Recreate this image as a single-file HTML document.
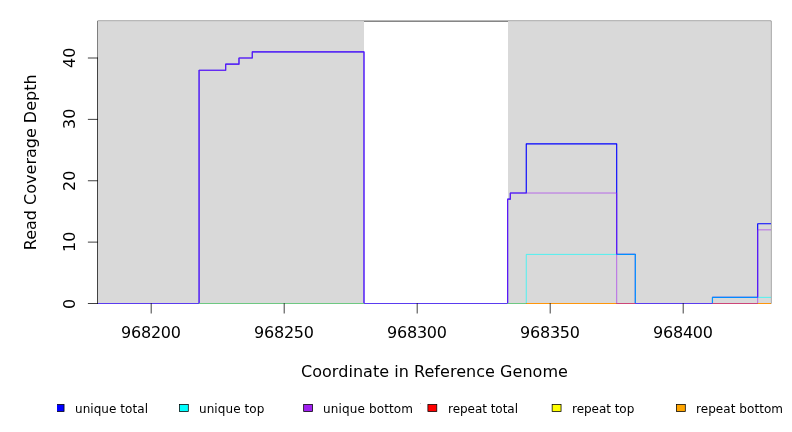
<!DOCTYPE html>
<html><head><meta charset="utf-8"><title>Read Coverage Depth</title>
<style>
html,body{margin:0;padding:0;background:#fff;width:792px;height:432px;overflow:hidden}
text{font-family:"DejaVu Sans","Liberation Sans",sans-serif;fill:#000}
.t16{font-size:16px}
.t12{font-size:12px}
</style></head><body>
<svg width="792" height="432" viewBox="0 0 792 432" style="display:block;position:absolute;left:0;top:0">
<defs><clipPath id="plotclip"><rect x="98" y="21.1" width="672.92" height="282.9"/></clipPath></defs>
<rect width="792" height="432" fill="#fff"/>
<rect x="97.875" y="21.1" width="673.045" height="282.4" fill="none" stroke="#000" stroke-width="0.75"/>
<rect x="98" y="21.1" width="266" height="281.9" fill="#d9d9d9"/>
<rect x="508" y="21.1" width="262.91999999999996" height="281.9" fill="#d9d9d9"/>
<g clip-path="url(#plotclip)">
<path d="M95.34,303.5 L199.08,303.5 L199.08,70.28 L225.68,70.28 L225.68,64.14 L238.98,64.14 L238.98,58.0 L252.28,58.0 L252.28,51.86 L364.0,51.86 L364.0,303.5 L507.64,303.5 L507.64,199.16 L510.3,199.16 L510.3,193.02 L526.26,193.02 L526.26,143.92 L616.7,143.92 L616.7,254.4 L635.32,254.4 L635.32,303.5 L712.46,303.5 L712.46,297.36 L757.68,297.36 L757.68,223.71 L776.3,223.71" fill="none" stroke="#0000ff" stroke-width="1.125" stroke-linejoin="round" stroke-linecap="round"/>
<path d="M95.34,303.5 L526.26,303.5 L526.26,254.4 L635.32,254.4 L635.32,303.5 L712.46,303.5 L712.46,297.36 L776.3,297.36" fill="none" stroke="#00ffff" stroke-opacity="0.85" stroke-width="0.75" stroke-linejoin="round"/>
<path d="M95.34,303.5 L199.08,303.5 L199.08,70.28 L225.68,70.28 L225.68,64.14 L238.98,64.14 L238.98,58.0 L252.28,58.0 L252.28,51.86 L364.0,51.86 L364.0,303.5 L507.64,303.5 L507.64,199.16 L510.3,199.16 L510.3,193.02 L616.7,193.02 L616.7,303.5 L757.68,303.5 L757.68,229.85 L776.3,229.85" fill="none" stroke="#a020f0" stroke-opacity="0.8" stroke-width="0.75" stroke-linejoin="round"/>
<line x1="98" y1="303.5" x2="199.08" y2="303.5" stroke="#5a3cf0" stroke-width="1"/>
<line x1="199.08" y1="303.5" x2="364.0" y2="303.5" stroke="#6ec882" stroke-width="1"/>
<line x1="364.0" y1="303.5" x2="507.64" y2="303.5" stroke="#5a3cf0" stroke-width="1"/>
<line x1="507.64" y1="303.5" x2="526.26" y2="303.5" stroke="#6ec882" stroke-width="1"/>
<line x1="526.26" y1="303.5" x2="616.7" y2="303.5" stroke="#ff960a" stroke-width="1"/>
<line x1="616.7" y1="303.5" x2="635.32" y2="303.5" stroke="#cd4678" stroke-width="1"/>
<line x1="635.32" y1="303.5" x2="712.46" y2="303.5" stroke="#5a3cf0" stroke-width="1"/>
<line x1="712.46" y1="303.5" x2="757.68" y2="303.5" stroke="#cd4678" stroke-width="1"/>
<line x1="757.68" y1="303.5" x2="770.92" y2="303.5" stroke="#ff960a" stroke-width="1"/>
</g>
<defs><clipPath id="axclip"><rect x="0" y="0" width="98" height="432"/></clipPath></defs>
<line x1="97.875" y1="303.5" x2="97.875" y2="58.0" stroke="#000" stroke-width="0.75" stroke-linecap="round" clip-path="url(#axclip)"/>
<line x1="88.275" y1="303.5" x2="97.875" y2="303.5" stroke="#000" stroke-width="0.75" stroke-linecap="round" clip-path="url(#axclip)"/>
<text transform="translate(75.1,309) rotate(-90)" class="t16">0</text>
<line x1="88.275" y1="242.12" x2="97.875" y2="242.12" stroke="#000" stroke-width="0.75" stroke-linecap="round" clip-path="url(#axclip)"/>
<text transform="translate(75.1,252) rotate(-90)" class="t16">10</text>
<line x1="88.275" y1="180.75" x2="97.875" y2="180.75" stroke="#000" stroke-width="0.75" stroke-linecap="round" clip-path="url(#axclip)"/>
<text transform="translate(75.1,191) rotate(-90)" class="t16">20</text>
<line x1="88.275" y1="119.38" x2="97.875" y2="119.38" stroke="#000" stroke-width="0.75" stroke-linecap="round" clip-path="url(#axclip)"/>
<text transform="translate(75.1,129) rotate(-90)" class="t16">30</text>
<line x1="88.275" y1="58.0" x2="97.875" y2="58.0" stroke="#000" stroke-width="0.75" stroke-linecap="round" clip-path="url(#axclip)"/>
<text transform="translate(75.1,68) rotate(-90)" class="t16">40</text>
<line x1="151.2" y1="303.5" x2="151.2" y2="313.1" stroke="#000" stroke-width="0.75" stroke-linecap="round"/>
<text x="121" y="337.7" textLength="60" lengthAdjust="spacing" class="t16">968200</text>
<line x1="284.2" y1="303.5" x2="284.2" y2="313.1" stroke="#000" stroke-width="0.75" stroke-linecap="round"/>
<text x="254" y="337.7" textLength="60" lengthAdjust="spacing" class="t16">968250</text>
<line x1="417.2" y1="303.5" x2="417.2" y2="313.1" stroke="#000" stroke-width="0.75" stroke-linecap="round"/>
<text x="387" y="337.7" textLength="60" lengthAdjust="spacing" class="t16">968300</text>
<line x1="550.2" y1="303.5" x2="550.2" y2="313.1" stroke="#000" stroke-width="0.75" stroke-linecap="round"/>
<text x="520" y="337.7" textLength="60" lengthAdjust="spacing" class="t16">968350</text>
<line x1="683.2" y1="303.5" x2="683.2" y2="313.1" stroke="#000" stroke-width="0.75" stroke-linecap="round"/>
<text x="653" y="337.7" textLength="60" lengthAdjust="spacing" class="t16">968400</text>
<text x="301" y="376.7" textLength="266.9" lengthAdjust="spacing" class="t16">Coordinate in Reference Genome</text>
<text transform="translate(36.2,162.3) rotate(-90)" text-anchor="middle" class="t16">Read Coverage Depth</text>
<defs><clipPath id="legclip"><rect x="57" y="395" width="735" height="37"/></clipPath></defs>
<rect x="420" y="403" width="1" height="1" fill="#cfcfcf"/>
<g clip-path="url(#legclip)">
<rect x="55.15" y="404.4" width="8.9" height="7.15" fill="#0000ff" stroke="#000" stroke-width="0.75"/>
<text x="75" y="413.1" textLength="73" lengthAdjust="spacing" class="t12">unique total</text>
<rect x="179.4" y="404.4" width="8.9" height="7.15" fill="#00ffff" stroke="#000" stroke-width="0.75"/>
<text x="199" y="413.1" textLength="65.4" lengthAdjust="spacing" class="t12">unique top</text>
<rect x="303.65" y="404.4" width="8.9" height="7.15" fill="#a020f0" stroke="#000" stroke-width="0.75"/>
<text x="323" y="413.1" textLength="90" lengthAdjust="spacing" class="t12">unique bottom</text>
<rect x="427.9" y="404.4" width="8.9" height="7.15" fill="#ff0000" stroke="#000" stroke-width="0.75"/>
<text x="448" y="413.1" textLength="70" lengthAdjust="spacing" class="t12">repeat total</text>
<rect x="552.15" y="404.4" width="8.9" height="7.15" fill="#ffff00" stroke="#000" stroke-width="0.75"/>
<text x="572" y="413.1" textLength="62.3" lengthAdjust="spacing" class="t12">repeat top</text>
<rect x="676.4" y="404.4" width="8.9" height="7.15" fill="#ffa500" stroke="#000" stroke-width="0.75"/>
<text x="696" y="413.1" textLength="87" lengthAdjust="spacing" class="t12">repeat bottom</text>
</g>
</svg>
</body></html>
